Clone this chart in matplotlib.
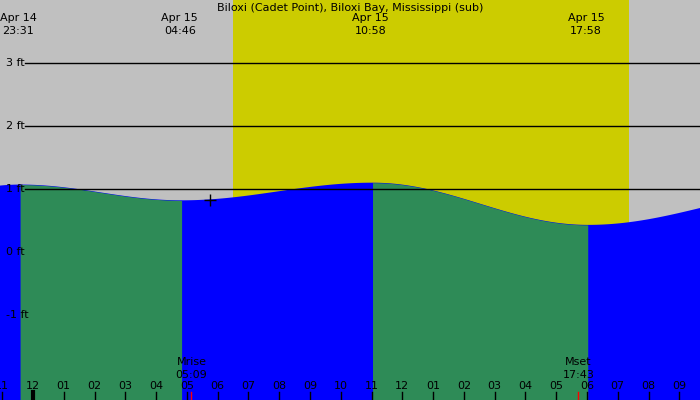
import numpy as np
import matplotlib

matplotlib.use("Agg")
import matplotlib.pyplot as plt

# hours from midnight Apr 15
ext_hours = [-7.0, -0.42, 4.83, 11.03, 18.03, 25.6]
ext_heights = [0.40, 1.07, 0.82, 1.10, 0.43, 1.00]
top_labels = [("Apr 14", "23:31", -0.48), ("Apr 15", "04:46", 4.77),
              ("Apr 15", "10:58", 10.97), ("Apr 15", "17:58", 17.97)]
hour_ticks = list(range(-1, 22))
day_start, day_end = 6.5, 19.37
moon = [("Mrise", "05:09", 5.15), ("Mset", "17:43", 17.72)]
title = "Biloxi (Cadet Point), Biloxi Bay, Mississippi (sub)"

x0, x1 = -1.07, 21.67
y0, y1 = -2.35, 4.0


def tide(t):
    out = np.zeros_like(t)
    for i in range(len(ext_hours) - 1):
        a, b = ext_hours[i], ext_hours[i + 1]
        m = (t >= a) & (t <= b)
        f = (1 - np.cos(np.pi * (t[m] - a) / (b - a))) / 2
        out[m] = ext_heights[i] + (ext_heights[i + 1] - ext_heights[i]) * f
    return out


fig = plt.figure(figsize=(7, 4), dpi=100)
ax = fig.add_axes([0, 0, 1, 1])
ax.set_xlim(x0, x1)
ax.set_ylim(y0, y1)
ax.axis("off")
ax.axvspan(x0, x1, color="#c0c0c0", lw=0, zorder=0)
ax.axvspan(day_start, day_end, color="#cccc00", lw=0, zorder=1)

t = np.linspace(x0, x1, 3000)
h = tide(t)
# rising water blue underneath, falling stretches painted green over it
ax.fill_between(t, y0, h, color="#0000ff", lw=0, zorder=2)
for i in range(len(ext_hours) - 1):
    if ext_heights[i + 1] < ext_heights[i]:
        m = (t >= ext_hours[i]) & (t <= ext_hours[i + 1])
        ax.fill_between(t[m], y0, h[m], color="#2e8b57", lw=0, zorder=2.5)

for lvl in [1, 2, 3]:
    ax.plot([x0 + 0.8, x1], [lvl, lvl], color="black", lw=1, zorder=3)
for lvl in [-1, 0, 1, 2, 3]:
    ax.text(x0 + 0.2, lvl, f"{lvl} ft", fontsize=8, va="center", ha="left", zorder=4)

ax.plot(5.75, 0.82, marker="+", color="black", ms=8, mew=1, zorder=4)

for hr in hour_ticks:
    lab = "12" if hr % 12 == 0 else f"{hr % 12:02d}"
    ax.text(hr, -2.12, lab, fontsize=8, ha="center", va="center", zorder=4)
    ax.plot([hr, hr], [y0, -2.22], color="black", lw=3 if hr == 0 else 1, zorder=4)

for name, tm, hr in moon:
    ax.plot([hr, hr], [y0, -2.22], color="red", lw=1, zorder=4)
    ax.text(hr, -1.75, name, fontsize=8, ha="center", va="center", zorder=4)
    ax.text(hr, -1.96, tm, fontsize=8, ha="center", va="center", zorder=4)

for d, tm, hr in top_labels:
    ax.text(hr, 3.71, d, fontsize=8, ha="center", va="center", zorder=4)
    ax.text(hr, 3.5, tm, fontsize=8, ha="center", va="center", zorder=4)
ax.text((x0 + x1) / 2, 3.88, title, fontsize=8, ha="center", va="center", zorder=4)

fig.savefig("out.png", dpi=100)
